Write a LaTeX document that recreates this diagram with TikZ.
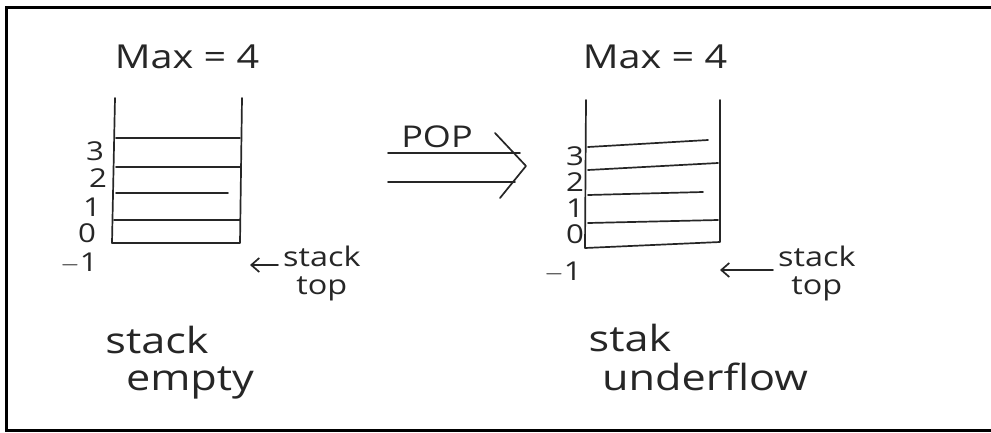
\documentclass[tikz,border=0pt]{standalone}
\usepackage{fontspec}
\setmainfont[FakeStretch=1.2]{Open Sans}
\usetikzlibrary{arrows.meta}
\definecolor{ink}{HTML}{262626}
\begin{document}
\begin{tikzpicture}[x=1pt,y=-1pt,
  pen/.style={line width=1.7pt, draw=ink, line cap=round, line join=round},
  frame/.style={line width=3pt, draw=black},
  big/.style={font=\fontsize{33}{34}\selectfont, text=ink, inner sep=0pt},
  mid/.style={font=\fontsize{36}{38}\selectfont, text=ink, inner sep=0pt},
  small/.style={font=\fontsize{27}{28}\selectfont, text=ink, inner sep=0pt, align=center},
  popf/.style={font=\fontsize{30}{30}\selectfont, text=ink, inner sep=0pt},
  idx/.style={font=\fontsize{26}{26}\selectfont, text=ink, inner sep=0pt},
  barb/.style={-{Straight Barb[length=8pt,width=14pt,line width=1.7pt]}}]
\useasboundingbox (0,0) rectangle (991,432);
% outer frame
\draw[frame] (991,7.5) -- (6.5,7.5) -- (6.5,430) -- (991,430);

% ---------- left stack ----------
\node[big] (maxL) at (187,57) {Max = 4};
\draw[pen] (115,98) -- (112,243) -- (240,243) -- (242,98);
\draw[pen] (116,138) -- (240,138);
\draw[pen] (116,167) -- (240,167);
\draw[pen] (116,193) -- (228,193);
\draw[pen] (114,220) -- (240,220);
\node[idx] (l3) at (95,151) {3};
\node[idx] (l2) at (98,178) {2};
\node[idx] (l1) at (92,207) {1};
\node[idx] (l0) at (87,233) {0};
\node[idx] (lm) at (79,263) {$-$1};
\node[small, anchor=west] (topL) at (283,273) {stack\\top};
\coordinate (tipL) at (250,265);
\draw[pen, barb] (topL.west |- tipL) ++(-5,0) coordinate (tailL) -- (tipL);
\node[mid] (emL1) at (157,340) {stack};
\node[mid] (emL2) at (190,383) {empty};

% ---------- POP arrow ----------
\node[popf] (pop) at (437,137) {POP};
\coordinate (a1) at (388,153);
\coordinate (a2) at (520,153);
\coordinate (b1) at (388,182);
\coordinate (b2) at (515,182);
\draw[pen] (a1) -- (a2);
\draw[pen] (b1) -- (b2);
\draw[pen] (495,133) -- (526,166) -- (500,198);

% ---------- right stack ----------
\node[big] (maxR) at (655,57) {Max = 4};
\draw[pen] (586,100) -- (585,248) -- (720,242) -- (720,100);
\draw[pen] (588,147) -- (708,140);
\draw[pen] (588,170) -- (718,163);
\draw[pen] (588,195) -- (703,192);
\draw[pen] (588,223) -- (718,220);
\node[idx] (r3) at (575,156) {3};
\node[idx] (r2) at (575,182) {2};
\node[idx] (r1) at (575,208) {1};
\node[idx] (r0) at (575,234) {0};
\node[idx] (rm) at (563,272) {$-$1};
\node[small, anchor=west] (topR) at (778,273) {stack\\top};
\coordinate (tipR) at (720,270);
\draw[pen, barb] (topR.west |- tipR) ++(-5,0) -- (tipR);
\node[mid] (unR1) at (630,338) {stak};
\node[mid] (unR2) at (705,377) {underflow};
\end{tikzpicture}
\end{document}
